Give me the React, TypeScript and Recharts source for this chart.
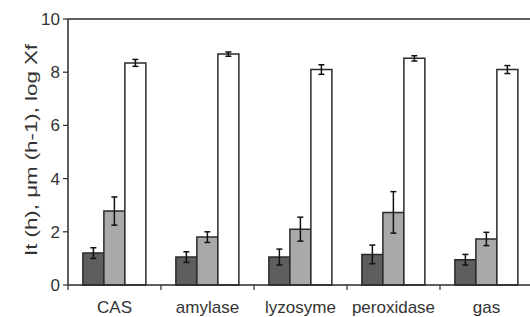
import { BarChart, Bar, XAxis, YAxis, ErrorBar, ReferenceLine } from "recharts";

const categories = ["CAS", "amylase", "lyzosyme", "peroxidase", "gas"];
const ltValues = [1.2, 1.05, 1.05, 1.15, 0.95];
const ltErr = [0.2, 0.2, 0.3, 0.35, 0.2];
const umValues = [2.78, 1.8, 2.1, 2.73, 1.73];
const umErr = [0.53, 0.2, 0.45, 0.78, 0.25];
const xfValues = [8.35, 8.68, 8.1, 8.52, 8.1];
const xfErr = [0.13, 0.08, 0.18, 0.1, 0.15];
const yTicks = [0, 2, 4, 6, 8, 10];

const data = categories.map((name, i) => ({
  name,
  lt: ltValues[i],
  ltErr: ltErr[i],
  um: umValues[i],
  umErr: umErr[i],
  xf: xfValues[i],
  xfErr: xfErr[i],
}));

const W = 540;
const H = 317;
const LEFT = 68;
const RIGHT = 7;
const INK = "#2a2a2a";
const FONT = "'Liberation Sans', Arial, sans-serif";
const bandWidth = (W - LEFT - RIGHT) / categories.length;

// category label plus the small tick marks at the band edges
function CategoryTick(props: any) {
  const { x, y, payload, index } = props;
  const left = x - bandWidth / 2;
  return (
    <g>
      <line x1={left} x2={left} y1={y} y2={y + 5} stroke={INK} strokeWidth={1.2} />
      {index === categories.length - 1 && (
        <line x1={x + bandWidth / 2} x2={x + bandWidth / 2} y1={y} y2={y + 5} stroke={INK} strokeWidth={1.2} />
      )}
      <text x={x} y={y + 28} textAnchor="middle" fontSize={17} fill="#333" fontFamily={FONT}>
        {payload.value}
      </text>
    </g>
  );
}

function YLabel() {
  return (
    <text
      x={31}
      y={150}
      transform="rotate(-90 31 150)"
      textAnchor="middle"
      dominantBaseline="central"
      fontSize={17}
      fill="#333"
      fontFamily={FONT}
      textLength={212}
      lengthAdjust="spacingAndGlyphs"
    >
      It (h), μm (h-1), log Xf
    </text>
  );
}

export default function App() {
  return (
    <div style={{ position: "fixed", left: 0, top: 0, width: 530, height: H, overflow: "hidden", background: "#fff" }}>
      <BarChart
        width={W}
        height={H}
        data={data}
        margin={{ top: 19, right: RIGHT, left: 0, bottom: 0 }}
        barCategoryGap="16%"
        barGap={0}
      >
        <XAxis
          dataKey="name"
          height={32}
          tickSize={0}
          tickMargin={0}
          tickLine={false}
          interval={0}
          axisLine={{ stroke: INK, strokeWidth: 1.5 }}
          tick={<CategoryTick />}
        />
        <YAxis
          width={LEFT}
          domain={[0, 10]}
          ticks={yTicks}
          tickSize={5}
          tickMargin={3}
          tick={{ fontSize: 17, fill: "#333", fontFamily: FONT }}
          tickLine={{ stroke: INK, strokeWidth: 1.2 }}
          axisLine={{ stroke: INK, strokeWidth: 1.5 }}
          label={<YLabel />}
        />
        <ReferenceLine y={10} stroke={INK} strokeWidth={1.5} />
        <Bar dataKey="lt" fill="#5e5e5e" stroke={INK} strokeWidth={1.5} isAnimationActive={false}>
          <ErrorBar dataKey="ltErr" width={3} stroke="#111" strokeWidth={1.5} />
        </Bar>
        <Bar dataKey="um" fill="#a9a9a9" stroke={INK} strokeWidth={1.5} isAnimationActive={false}>
          <ErrorBar dataKey="umErr" width={3} stroke="#111" strokeWidth={1.5} />
        </Bar>
        <Bar dataKey="xf" fill="#ffffff" stroke={INK} strokeWidth={1.5} isAnimationActive={false}>
          <ErrorBar dataKey="xfErr" width={3} stroke="#111" strokeWidth={1.5} />
        </Bar>
      </BarChart>
    </div>
  );
}
